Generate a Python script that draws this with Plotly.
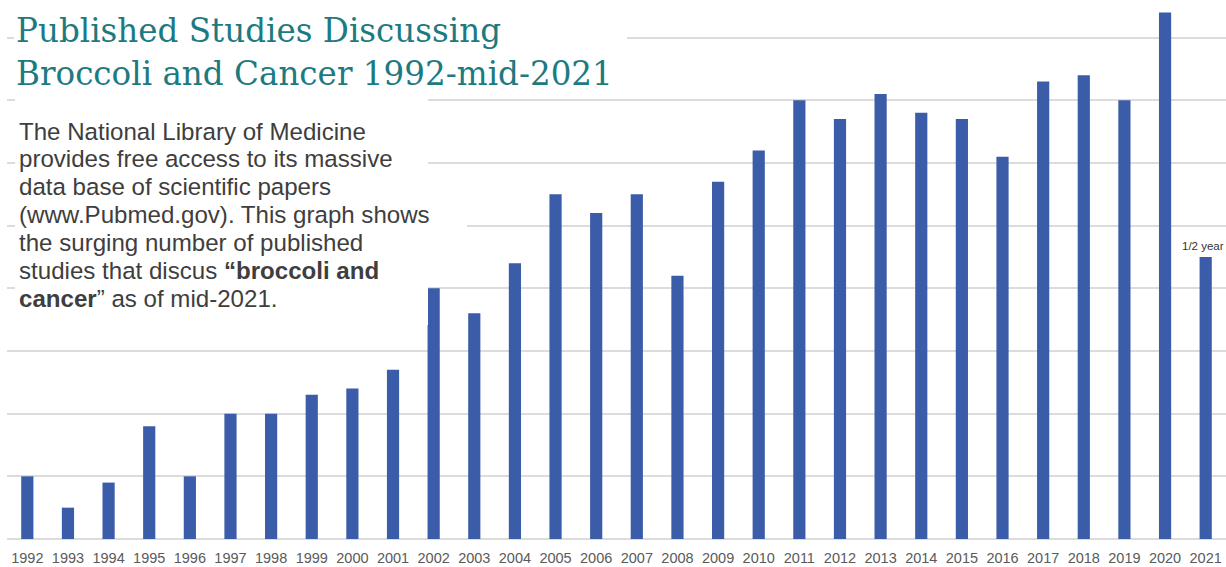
import plotly.graph_objects as go

years = [str(y) for y in range(1992, 2022)]
studies = [10, 5, 9, 18, 10, 20, 20, 23, 24, 27, 40, 36, 44, 55, 52, 55, 42, 57, 62, 70,
           67, 71, 68, 67, 61, 73, 74, 70, 84, 45]

title_lines = ["Published Studies Discussing", "Broccoli and Cancer 1992-mid-2021"]
desc_lines = ["The National Library of Medicine",
              "provides free access to its massive",
              "data base of scientific papers",
              "(www.Pubmed.gov). This graph shows",
              "the surging number of published",
              "studies that discus <b>\u201cbroccoli and</b>",
              "<b>cancer</b>\u201d as of mid-2021."]
half_year_label = "1/2 year"

W, H = 1226, 567
ML, MR, MT, MB = 7, 0, 0, 28
PW, PH = W - ML - MR, H - MT - MB


def px(x):
    return (x - ML) / PW


def py(y):
    return (H - MB - y) / PH


annotations = []
for i, line in enumerate(title_lines):
    annotations.append(dict(text=line, xref="paper", yref="paper", x=px(14), y=py(31 + 43 * i),
                            xanchor="left", yanchor="middle", align="left", showarrow=False,
                            font=dict(family="DejaVu Serif", size=32.6, color="#1d7a80")))
for i, line in enumerate(desc_lines):
    annotations.append(dict(text=line, xref="paper", yref="paper", x=px(17), y=py(131 + 27.9 * i),
                            xanchor="left", yanchor="middle", align="left", showarrow=False,
                            font=dict(family="Liberation Sans", size=24.1, color="#3e3e3e")))
annotations.append(dict(text=half_year_label, xref="paper", yref="paper", x=1, y=py(246),
                        xanchor="right", yanchor="middle", showarrow=False,
                        font=dict(family="Liberation Sans", size=11.5, color="#333333")))

fig = go.Figure()
fig.add_trace(go.Bar(x=years, y=studies, marker_color="#3a5ca9", marker_line_width=0,
                     hoverinfo="x+y"))

fig.update_layout(
    width=W, height=H,
    margin=dict(l=ML, r=MR, t=MT, b=MB, autoexpand=False),
    plot_bgcolor="white", paper_bgcolor="white",
    showlegend=False,
    bargap=0.7,
    xaxis=dict(type="category", range=[-0.5, len(years) - 0.5], showgrid=False, showline=False,
               ticks="", tickangle=0, automargin=False, ticklabelstandoff=8,
               tickfont=dict(family="Liberation Sans", size=14.5, color="#5a5a5a")),
    yaxis=dict(range=[0, 86], tick0=0, dtick=10, showticklabels=False, showgrid=True,
               gridcolor="#dcdcdc", gridwidth=1.8, zeroline=True, zerolinecolor="#dcdcdc",
               zerolinewidth=1.8, showline=False, automargin=False),
    shapes=[
        dict(type="rect", xref="paper", yref="paper", x0=px(14), x1=px(627), y0=py(97), y1=1,
             fillcolor="white", line_width=0, layer="above"),
        dict(type="rect", xref="paper", yref="paper", x0=px(15), x1=px(428), y0=py(325), y1=py(97),
             fillcolor="white", line_width=0, layer="above"),
        dict(type="rect", xref="paper", yref="paper", x0=px(420), x1=px(467), y0=py(245), y1=py(178),
             fillcolor="white", line_width=0, layer="above"),
    ],
    annotations=annotations,
)

fig.write_html("out.html")
